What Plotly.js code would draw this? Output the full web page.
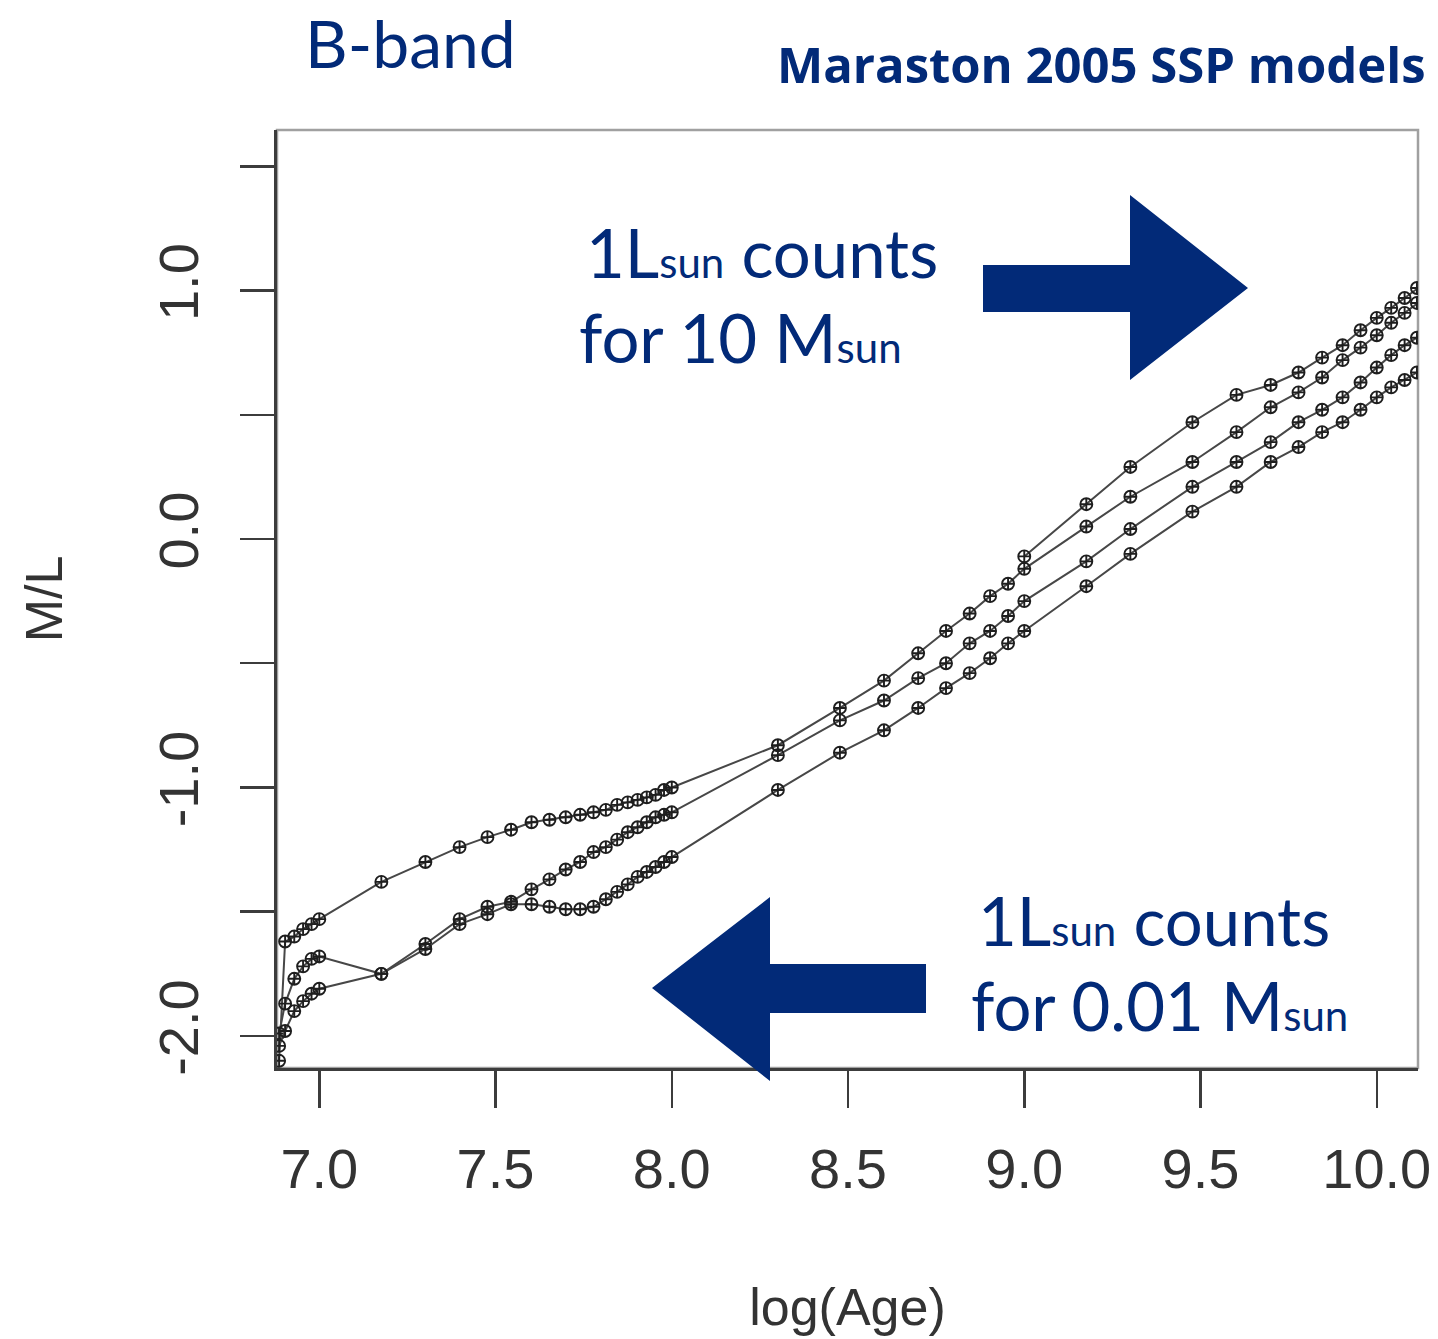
<!DOCTYPE html>
<html>
<head>
<meta charset="utf-8">
<script src="https://cdn.plot.ly/plotly-3.0.1.min.js"></script>
<style>
  html, body { margin: 0; padding: 0; background: #ffffff; }
  #chart { width: 1438px; height: 1339px; }
</style>
</head>
<body>
<div id="chart"></div>
<script>
// ---- data ----
const logAgeFull = [6.886, 6.903, 6.929, 6.954, 6.978, 7.0,
  7.176, 7.301, 7.398, 7.477, 7.544, 7.602, 7.653, 7.699, 7.740, 7.778, 7.813, 7.845, 7.875, 7.903, 7.929, 7.954, 7.978, 8.0,
  8.301, 8.477, 8.602, 8.699, 8.778, 8.845, 8.903, 8.954, 9.0,
  9.176, 9.301, 9.477, 9.602, 9.699, 9.778, 9.845, 9.903, 9.954, 10.0, 10.041, 10.079, 10.114, 10.146, 10.176];

const mlTrackA = [-2.10, -1.62, -1.60, -1.57, -1.55, -1.53,
  -1.38, -1.30, -1.24, -1.20, -1.17, -1.14, -1.13, -1.12, -1.11, -1.10, -1.09, -1.07, -1.06, -1.05, -1.04, -1.03, -1.01, -1.00,
  -0.83, -0.68, -0.57, -0.46, -0.37, -0.30, -0.23, -0.18, -0.12,
  0.05, 0.17, 0.31, 0.43, 0.53, 0.59, 0.65, 0.72, 0.77, 0.82, 0.87, 0.91, 0.95, 0.98, 1.01];

const mlTrackB = [-1.99, -1.87, -1.77, -1.72, -1.69, -1.68,
  -1.75, -1.63, -1.53, -1.48, -1.46, -1.41, -1.37, -1.33, -1.30, -1.26, -1.24, -1.21, -1.18, -1.16, -1.14, -1.12, -1.11, -1.10,
  -0.87, -0.73, -0.65, -0.56, -0.50, -0.42, -0.37, -0.31, -0.25,
  -0.09, 0.04, 0.21, 0.31, 0.39, 0.47, 0.52, 0.57, 0.63, 0.69, 0.74, 0.78, 0.81, 0.85, 0.88];

const mlTrackC = [-2.04, -1.98, -1.90, -1.86, -1.83, -1.81,
  -1.75, -1.65, -1.55, -1.51, -1.47, -1.47, -1.48, -1.49, -1.49, -1.48, -1.45, -1.42, -1.39, -1.36, -1.34, -1.32, -1.30, -1.28,
  -1.01, -0.86, -0.77, -0.68, -0.60, -0.54, -0.48, -0.42, -0.37,
  -0.19, -0.06, 0.11, 0.21, 0.31, 0.37, 0.43, 0.47, 0.52, 0.57, 0.61, 0.64, 0.67, 0.70, 0.73];

const logAgeOld = [9.0, 9.176, 9.301, 9.477, 9.602, 9.699, 9.778, 9.845, 9.903, 9.954, 10.0, 10.041, 10.079, 10.114, 10.146, 10.176];
const mlTrackD = [-0.07, 0.14, 0.29, 0.47, 0.58, 0.62, 0.67, 0.73, 0.78, 0.84, 0.89, 0.93, 0.97, 1.01, 1.04, 1.07];

const xTickVals = [7.0, 7.5, 8.0, 8.5, 9.0, 9.5, 10.0];
const xTickText = ['7.0', '7.5', '8.0', '8.5', '9.0', '9.5', '10.0'];
const yTickVals = [-2.0, -1.5, -1.0, -0.5, 0.0, 0.5, 1.0, 1.5];
const yTickText = ['-2.0', '', '-1.0', '', '0.0', '', '1.0', ''];

// ---- styling ----
const BLUE = '#022a78';
const AXIS = '#3c3c3c';
const FIG_W = 1438, FIG_H = 1339;
const M = { l: 277, r: 20, t: 130, b: 271 };
const PW = FIG_W - M.l - M.r, PH = FIG_H - M.t - M.b;
const px = v => (v - M.l) / PW;            // pixel x -> paper
const py = v => (FIG_H - M.b - v) / PH;    // pixel y -> paper

function track(x, y) {
  return {
    x: x, y: y, type: 'scatter', mode: 'lines+markers',
    line: { color: '#474747', width: 2 },
    marker: { symbol: 'circle-cross-open', size: 12, color: '#1e1e1e', line: { width: 1.9, color: '#1e1e1e' } },
    hoverinfo: 'x+y', showlegend: false
  };
}

const data = [
  track(logAgeFull, mlTrackA),
  track(logAgeFull, mlTrackB),
  track(logAgeFull, mlTrackC),
  track(logAgeOld, mlTrackD)
];

function pathFrom(pts) {
  return 'M ' + pts.map(p => px(p[0]).toFixed(5) + ',' + py(p[1]).toFixed(5)).join(' L ') + ' Z';
}

const rightArrow = pathFrom([[983, 265], [1130, 265], [1130, 195], [1248, 288], [1130, 380], [1130, 312], [983, 312]]);
const leftArrow = pathFrom([[926, 964], [770, 964], [770, 897], [652, 988], [770, 1081], [770, 1013], [926, 1013]]);

const blueFont = (size) => ({ family: 'Lato, "Open Sans", sans-serif', size: size, color: BLUE });
const sub = s => '<span style="font-size:42px">' + s + '</span>';

const layout = {
  width: FIG_W, height: FIG_H,
  margin: { l: M.l, r: M.r, t: M.t, b: M.b, pad: 0 },
  paper_bgcolor: '#ffffff', plot_bgcolor: '#ffffff',
  showlegend: false,
  font: { family: '"Liberation Sans", Arial, sans-serif', color: AXIS },
  xaxis: {
    range: [6.88, 10.117], tickmode: 'array', tickvals: xTickVals, ticktext: xTickText,
    ticks: 'outside', ticklen: 37, tickwidth: 2.5, tickcolor: AXIS,
    showline: true, linecolor: AXIS, linewidth: 3,
    showgrid: false, zeroline: false,
    tickfont: { family: '"Liberation Sans", Arial, sans-serif', size: 56, color: '#333333' },
    ticklabelstandoff: 13,
    title: { text: 'log(Age)', font: { family: '"Liberation Sans", Arial, sans-serif', size: 52, color: '#333333' }, standoff: 90 },
    automargin: false
  },
  yaxis: {
    range: [-2.129, 1.646], tickmode: 'array', tickvals: yTickVals, ticktext: yTickText,
    ticks: 'outside', ticklen: 34, tickwidth: 2.5, tickcolor: AXIS,
    showline: true, linecolor: AXIS, linewidth: 3,
    showgrid: false, zeroline: false, tickangle: -90,
    tickfont: { family: '"Liberation Sans", Arial, sans-serif', size: 56, color: '#333333' },
    ticklabelstandoff: 20,
    title: { text: 'M/L', font: { family: '"Liberation Sans", Arial, sans-serif', size: 52, color: '#333333' }, standoff: 68 },
    automargin: false
  },
  shapes: [
    { type: 'rect', xref: 'paper', yref: 'paper', x0: 0, x1: 1, y0: 0, y1: 1,
      line: { color: '#a0a0a0', width: 2.5 }, layer: 'below' },
    { type: 'path', xref: 'paper', yref: 'paper', path: rightArrow, fillcolor: BLUE, line: { width: 0 } },
    { type: 'path', xref: 'paper', yref: 'paper', path: leftArrow, fillcolor: BLUE, line: { width: 0 } }
  ],
  annotations: [
    { text: 'B-band', xref: 'paper', yref: 'paper', x: px(303), y: py(42), xanchor: 'left', yanchor: 'middle',
      showarrow: false, font: blueFont(66) },
    { text: '<b>Maraston 2005 SSP models</b>', xref: 'paper', yref: 'paper', x: px(1428), y: py(64), xanchor: 'right', yanchor: 'middle',
      showarrow: false, font: { family: '"Open Sans", Lato, sans-serif', size: 49, color: BLUE, weight: 800 } },
    { text: '1L' + sub('sun') + ' counts', xref: 'paper', yref: 'paper', x: px(584), y: py(252), xanchor: 'left', yanchor: 'middle',
      showarrow: false, font: blueFont(67) },
    { text: 'for 10 M' + sub('sun'), xref: 'paper', yref: 'paper', x: px(577), y: py(337), xanchor: 'left', yanchor: 'middle',
      showarrow: false, font: blueFont(67) },
    { text: '1L' + sub('sun') + ' counts', xref: 'paper', yref: 'paper', x: px(976), y: py(920), xanchor: 'left', yanchor: 'middle',
      showarrow: false, font: blueFont(67) },
    { text: 'for 0.01 M' + sub('sun'), xref: 'paper', yref: 'paper', x: px(969), y: py(1005), xanchor: 'left', yanchor: 'middle',
      showarrow: false, font: blueFont(67) }
  ]
};

Plotly.newPlot('chart', data, layout, { staticPlot: true, displayModeBar: false });
</script>
</body>
</html>
